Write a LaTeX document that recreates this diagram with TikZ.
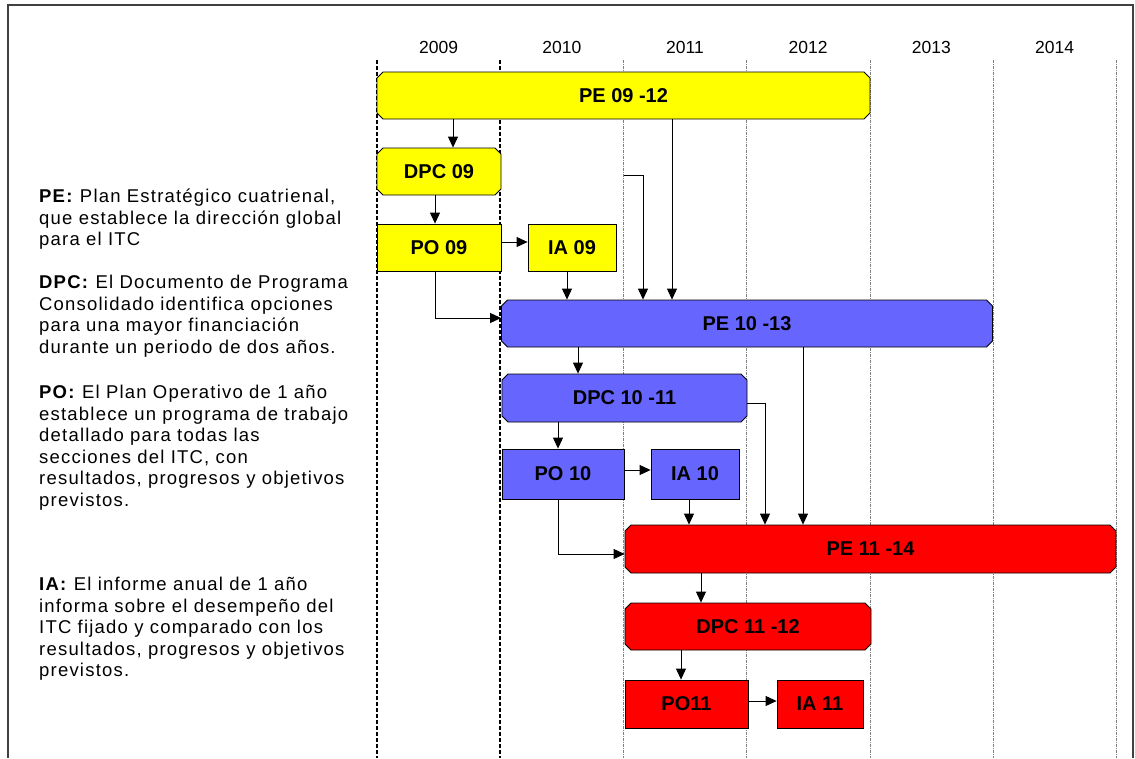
\documentclass[tikz,border=0pt]{standalone}
\usepackage{fontspec}
\setmainfont{Liberation Sans}
\newfontfamily\notefont[LetterSpace=6.5]{Liberation Sans}
\usepackage{tikz}
\usetikzlibrary{arrows.meta, shapes.misc}
\definecolor{peyellow}{RGB}{255,255,0}
\definecolor{peblue}{RGB}{102,102,255}
\definecolor{pered}{RGB}{255,0,0}
\tikzset{
    plan/.style={chamfered rectangle, chamfered rectangle xsep=3pt, chamfered rectangle ysep=3pt,
        draw, line width=0.8pt, inner sep=0pt, font=\fontsize{20}{24}\selectfont\bfseries},
    sheet/.style={rectangle, draw, line width=0.8pt, inner sep=0pt, font=\fontsize{20}{24}\selectfont\bfseries},
    arr/.style={line width=0.9pt, -{Triangle[length=11pt, width=10pt]}},
    yearline/.style={gray, line width=0.5pt, dash pattern=on 3pt off 1pt on 1pt off 1pt},
    yearbold/.style={line width=1.8pt, dash pattern=on 4pt off 2pt},
    note/.style={anchor=north west, align=left, inner sep=0pt, font=\notefont\fontsize{18.5}{21.5}\selectfont}
}

\begin{document}
\begin{tikzpicture}[x=1pt, y=-1pt]
        \useasboundingbox (0,0) rectangle (1135,758);
        \draw[line width=1.2pt, black!75] (8,758) |- (1133,5) -- (1133,758);

        \foreach \k in {2,...,6} \draw[yearline] ({377+123.2*\k},60) -- ({377+123.2*\k},758);
        \foreach \k in {0,1} \draw[yearbold] ({377+123.2*\k},60) -- ({377+123.2*\k},758);
        \foreach \yr [count=\i from 0] in {2009,...,2014}
            \node[anchor=base, font=\fontsize{17.5}{20}\selectfont] (y\yr) at ({377+123.2*(\i+0.5)},53) {\yr};

        \node[plan, fill=peyellow, minimum width=493, minimum height=47] (pe09) at (623.5,95.5) {PE 09 -12};
        \node[plan, fill=peyellow, minimum width=124, minimum height=47] (dpc09) at (439,171.5) {DPC 09};
        \node[sheet, fill=peyellow, minimum width=124, minimum height=47] (po09) at (439,247.5) {PO 09};
        \node[sheet, fill=peyellow, minimum width=88, minimum height=47] (ia09) at (572,247.5) {IA 09};

        \node[plan, fill=peblue, minimum width=491, minimum height=47] (pe10) at (747,323.5) {PE 10 -13};
        \node[plan, fill=peblue, minimum width=245, minimum height=48] (dpc10) at (624.5,398) {DPC 10 -11};
        \node[sheet, fill=peblue, minimum width=122, minimum height=50] (po10) at (563,474) {PO 10};
        \node[sheet, fill=peblue, minimum width=88, minimum height=50] (ia10) at (695,474) {IA 10};

        \node[plan, fill=pered, minimum width=491, minimum height=48] (pe11) at (870.5,549) {PE 11 -14};
        \node[plan, fill=pered, minimum width=246, minimum height=47] (dpc11) at (748,626.5) {DPC 11 -12};
        \node[sheet, fill=pered, minimum width=123, minimum height=48] (po11) at (686.5,704) {PO11};
        \node[sheet, fill=pered, minimum width=86, minimum height=48] (ia11) at (820,704) {IA 11};

        \coordinate (tap11) at (624,175);

        \draw[arr] ([xshift=14pt]dpc09.north |- pe09.south) -- ([xshift=14pt]dpc09.north);
        \draw[arr] ([xshift=-4pt]po09.north |- dpc09.south) -- ([xshift=-4pt]po09.north);
        \draw[arr] ([yshift=5.5pt]ia09.west -| po09.east) -- ([yshift=5.5pt]ia09.west);
        \draw[arr] ([xshift=-4pt]po09.south) |- ([yshift=5.5pt]pe10.west);
        \draw[arr] ([xshift=-5pt]ia09.south) -- ([xshift=-5pt]ia09.south |- pe10.north);
        \draw[arr] (tap11) -| ([xshift=-104pt]pe10.north);
        \draw[arr] ([xshift=48.5pt]pe09.south) -- ([xshift=48.5pt]pe09.south |- pe10.north);

        \draw[arr] ([xshift=-46.5pt]dpc10.north |- pe10.south) -- ([xshift=-46.5pt]dpc10.north);
        \draw[arr] ([xshift=56pt]pe10.south) -- ([xshift=56pt]pe10.south |- pe11.north);
        \draw[arr] ([yshift=-5pt]dpc10.east) -| ([xshift=-105.5pt]pe11.north);
        \draw[arr] ([xshift=-5pt]po10.north |- dpc10.south) -- ([xshift=-5pt]po10.north);
        \draw[arr] ([yshift=4pt]ia10.west -| po10.east) -- ([yshift=4pt]ia10.west);
        \draw[arr] ([xshift=-5pt]po10.south) |- ([yshift=-5pt]pe11.west);
        \draw[arr] ([xshift=-6pt]ia10.south) -- ([xshift=-6pt]ia10.south |- pe11.north);

        \draw[arr] ([xshift=-47pt]dpc11.north |- pe11.south) -- ([xshift=-47pt]dpc11.north);
        \draw[arr] ([xshift=-5.5pt]po11.north |- dpc11.south) -- ([xshift=-5.5pt]po11.north);
        \draw[arr] ([yshift=3pt]ia11.west -| po11.east) -- ([yshift=3pt]ia11.west);

        \node[note] (notepe) at (39,189) {\textbf{PE:} Plan Estratégico cuatrienal,\\que establece la dirección global\\para el ITC};
        \node[note] (notedpc) at (39,275) {\textbf{DPC:} El Documento de Programa\\Consolidado identifica opciones\\para una mayor financiación\\durante un periodo de dos años.};
        \node[note] (notepo) at (39,385) {\textbf{PO:} El Plan Operativo de 1 año\\establece un programa de trabajo\\detallado para todas las\\secciones del ITC, con\\resultados, progresos y objetivos\\previstos.};
        \node[note] (noteia) at (39,577) {\textbf{IA:} El informe anual de 1 año\\informa sobre el desempeño del\\ITC fijado y comparado con los\\resultados, progresos y objetivos\\previstos.};
    \end{tikzpicture}
\end{document}
